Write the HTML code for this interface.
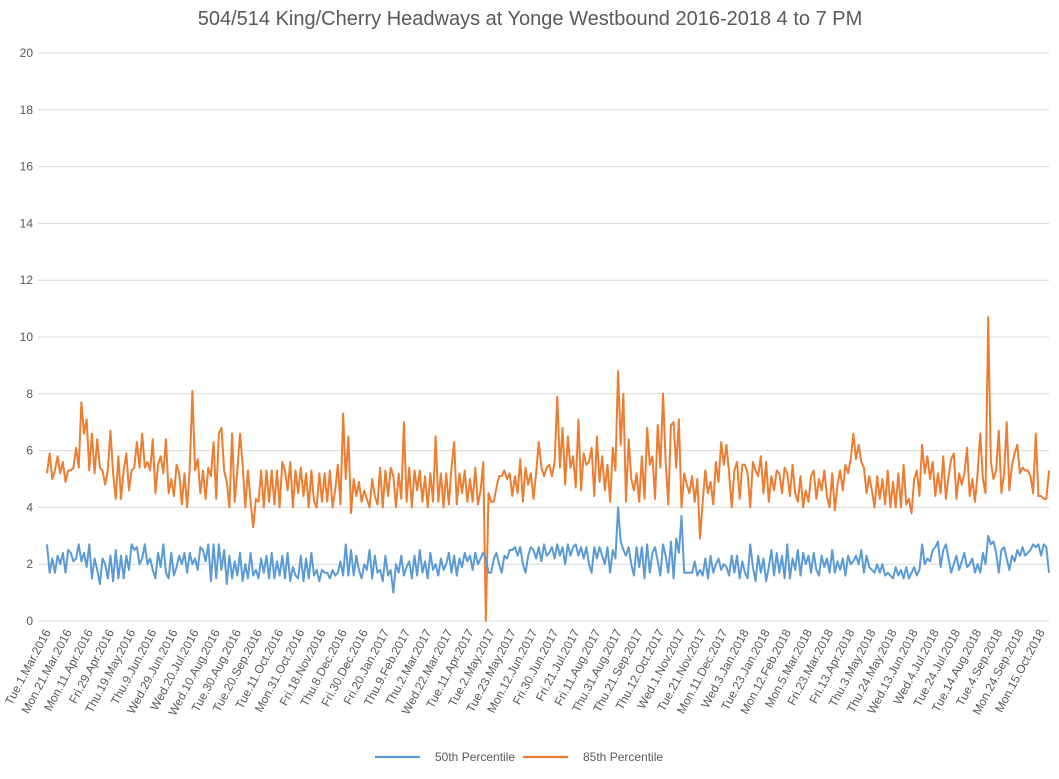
<!DOCTYPE html>
<html><head><meta charset="utf-8"><style>
html,body{margin:0;padding:0;background:#fff;}
svg{display:block;font-family:"Liberation Sans",sans-serif;}
</style></head><body>
<svg id="chart" width="1059" height="779" viewBox="0 0 1059 779">
<text x="530" y="25" text-anchor="middle" font-size="20" fill="#595959">504/514 King/Cherry Headways at Yonge Westbound 2016-2018 4 to 7 PM</text>
<g id="grid"></g><g id="ylabels"></g><g id="xlabels"></g><g id="series"></g>
<g>
<line x1="375" y1="757" x2="420" y2="757" stroke="#5B9BD5" stroke-width="2.2"/>
<text x="435" y="761" font-size="12" fill="#595959">50th Percentile</text>
<line x1="523" y1="757" x2="568" y2="757" stroke="#ED7D31" stroke-width="2.2"/>
<text x="583" y="761" font-size="12" fill="#595959">85th Percentile</text>
</g>
</svg>
<script>
const tickLabels=[0,2,4,6,8,10,12,14,16,18,20];
const dateLabels=["Tue.1.Mar.2016","Mon.21.Mar.2016","Mon.11.Apr.2016","Fri.29.Apr.2016","Thu.19.May.2016","Thu.9.Jun.2016","Wed.29.Jun.2016","Wed.20.Jul.2016","Wed.10.Aug.2016","Tue.30.Aug.2016","Tue.20.Sep.2016","Tue.11.Oct.2016","Mon.31.Oct.2016","Fri.18.Nov.2016","Thu.8.Dec.2016","Fri.30.Dec.2016","Fri.20.Jan.2017","Thu.9.Feb.2017","Thu.2.Mar.2017","Wed.22.Mar.2017","Tue.11.Apr.2017","Tue.2.May.2017","Tue.23.May.2017","Mon.12.Jun.2017","Fri.30.Jun.2017","Fri.21.Jul.2017","Fri.11.Aug.2017","Thu.31.Aug.2017","Thu.21.Sep.2017","Thu.12.Oct.2017","Wed.1.Nov.2017","Tue.21.Nov.2017","Mon.11.Dec.2017","Wed.3.Jan.2018","Tue.23.Jan.2018","Mon.12.Feb.2018","Mon.5.Mar.2018","Fri.23.Mar.2018","Fri.13.Apr.2018","Thu.3.May.2018","Thu.24.May.2018","Wed.13.Jun.2018","Wed.4.Jul.2018","Tue.24.Jul.2018","Tue.14.Aug.2018","Tue.4.Sep.2018","Mon.24.Sep.2018","Mon.15.Oct.2018"];
const pointsPerLabel=8;
const p85=[5.2,5.9,5.0,5.3,5.8,5.2,5.6,4.9,
5.3,5.3,5.4,6.1,5.4,7.7,6.6,7.1,
5.3,6.6,5.2,6.4,5.4,5.3,4.8,5.3,
6.7,5.2,4.3,5.8,4.3,5.3,5.9,4.6,
5.3,5.4,6.3,5.4,6.6,5.4,5.6,5.3,
6.4,4.5,5.5,5.8,5.2,6.4,4.5,5.0,
4.4,5.5,5.2,4.1,5.2,4.0,5.4,8.1,
5.3,5.7,4.5,5.3,4.3,5.4,5.1,6.3,
4.3,6.6,6.8,5.3,4.9,4.0,6.6,4.2,
5.3,6.6,5.5,4.0,5.3,4.2,3.3,4.3,
4.2,5.3,4.0,5.3,4.2,5.3,4.1,5.3,
4.0,5.6,5.3,4.6,5.6,4.0,5.3,4.5,
5.4,4.4,5.2,4.0,5.3,4.2,4.0,5.2,
4.2,5.2,4.2,5.3,4.0,4.6,5.5,4.1,
7.3,5.0,6.5,3.8,5.0,4.4,4.9,4.2,
4.6,4.3,4.0,5.0,4.4,4.1,5.4,4.0,
5.3,4.4,5.4,5.1,4.0,5.2,4.3,7.0,
4.2,5.4,4.0,5.3,4.6,5.3,4.2,5.1,
4.0,5.2,4.2,6.5,4.2,5.2,4.0,5.2,
4.1,5.4,6.3,4.1,5.2,4.5,5.3,4.2,
5.0,4.2,5.4,4.1,4.6,5.6,0.0,4.5,
4.2,4.2,4.7,5.1,5.1,5.3,5.0,5.2,
4.4,5.1,4.5,5.7,4.2,5.4,4.8,5.2,
4.3,5.2,6.3,5.4,5.1,5.4,5.5,5.1,
5.6,7.9,5.4,6.8,4.8,6.5,5.4,5.8,
4.7,7.1,4.6,5.9,5.5,5.6,6.1,4.4,
6.5,4.9,5.8,4.6,5.5,4.2,6.1,5.3,
8.8,6.2,8.0,4.2,6.4,5.0,4.6,5.2,
4.2,5.8,4.3,6.8,5.5,5.8,4.3,6.9,
5.4,8.0,5.6,4.1,6.9,7.0,5.4,7.1,
4.0,5.2,4.8,4.5,5.1,4.2,5.0,2.9,
4.2,5.3,4.5,4.9,4.1,5.6,4.9,6.3,
5.5,6.2,5.2,4.0,5.3,5.6,4.3,5.5,
5.5,5.2,4.0,5.6,5.3,5.1,5.8,4.5,
5.6,4.2,5.1,4.6,5.3,5.2,4.5,5.4,
5.2,4.4,5.5,4.5,4.2,5.1,4.0,4.6,
4.2,5.1,5.3,4.3,5.0,4.6,5.3,4.4,
4.0,5.2,3.9,4.8,5.3,4.6,5.5,5.2,
5.7,6.6,5.7,6.2,5.6,5.4,4.5,5.1,
4.6,4.0,5.1,4.3,5.0,4.1,5.3,4.0,
4.9,4.0,5.2,4.0,5.5,4.1,4.3,3.8,
5.0,5.3,4.4,6.2,5.2,5.8,5.0,5.6,
4.4,5.2,4.5,5.8,4.3,5.1,5.7,5.9,
4.3,5.2,4.8,5.2,6.1,4.4,5.0,4.2,
5.2,6.6,5.0,4.5,10.7,5.6,5.0,5.3,
6.7,4.5,5.2,7.0,4.6,5.5,5.9,6.2,
5.2,5.4,5.3,5.3,5.1,4.5,6.6,4.4,
4.4,4.3,4.3,5.3];
const p50=[2.7,1.7,2.2,1.7,2.3,2.0,2.4,1.7,
2.5,2.4,2.1,2.2,2.7,2.1,2.4,1.9,
2.7,1.5,2.2,1.8,1.3,2.2,2.0,1.5,
2.3,1.4,2.5,1.5,2.3,1.5,2.3,1.8,
2.7,2.5,2.6,2.0,2.2,2.7,2.0,2.2,
1.8,1.5,2.4,1.9,2.7,1.7,1.5,2.4,
1.6,1.9,2.3,2.0,2.4,1.7,2.4,2.0,
2.2,1.8,2.6,2.5,2.1,2.7,1.4,2.7,
1.5,2.7,1.8,2.5,1.3,2.3,1.5,2.1,
1.6,2.4,1.4,2.0,1.5,2.4,1.6,1.8,
1.5,2.2,1.7,2.3,1.5,2.4,1.5,2.1,
1.6,2.3,1.5,2.4,1.4,1.9,1.6,1.5,
2.3,1.4,2.2,1.5,2.4,1.6,1.8,1.4,
1.8,1.7,1.7,1.5,1.8,1.6,1.7,2.1,
1.6,2.7,1.6,2.5,1.6,2.3,1.8,1.5,
2.0,1.8,2.5,1.5,2.3,1.7,1.8,1.4,
2.3,1.6,1.8,1.0,2.0,1.7,2.3,1.6,
1.9,2.1,1.5,2.3,1.6,2.5,1.7,2.1,
1.5,2.4,1.8,2.0,1.6,2.2,1.8,2.0,
2.4,1.7,2.3,1.6,2.2,1.9,2.4,2.1,
2.3,1.8,2.4,2.0,2.2,2.4,2.2,1.7,
1.7,2.2,2.4,2.0,1.7,2.3,2.2,2.5,
2.5,2.6,2.3,2.6,2.0,1.7,2.3,2.6,
2.5,2.2,2.6,2.1,2.7,2.3,2.4,2.6,
2.2,2.7,2.3,2.6,2.0,2.7,2.3,2.6,
2.7,2.3,2.6,2.2,2.6,2.0,1.7,2.6,
2.2,2.6,2.3,2.0,2.6,1.7,2.5,2.2,
4.0,2.8,2.5,2.3,2.6,2.0,1.6,2.6,
1.9,2.6,1.5,2.7,1.7,2.4,2.6,2.1,
1.6,2.7,2.3,1.7,2.8,1.5,2.9,2.4,
3.7,1.7,1.7,1.7,1.7,2.1,1.6,1.8,
1.6,2.2,1.5,2.3,1.7,2.0,2.2,1.8,
2.0,1.9,1.6,2.3,1.7,2.3,1.5,2.1,
1.7,1.5,2.7,1.9,1.4,2.3,1.7,2.2,
1.4,1.9,2.5,1.6,2.4,1.7,2.3,1.5,
2.7,1.5,2.2,1.8,2.5,1.6,2.4,2.0,
2.3,1.7,2.4,1.8,1.6,2.3,1.9,2.2,
1.7,2.5,1.7,2.1,1.8,2.2,1.6,2.3,
2.0,2.1,2.3,2.0,2.5,1.7,2.3,1.9,
1.8,1.7,2.0,1.7,2.0,1.6,1.7,1.6,
1.5,1.9,1.6,1.8,1.5,1.9,1.5,1.7,
1.9,1.6,1.8,2.7,2.0,2.2,2.1,2.5,
2.6,2.8,1.9,2.5,2.7,2.2,1.7,2.0,
2.3,1.8,2.1,2.4,1.9,2.0,2.2,1.7,
2.0,1.7,2.4,2.0,3.0,2.7,2.8,2.4,
1.7,2.5,2.6,2.2,1.8,2.3,2.1,2.5,
2.3,2.6,2.3,2.4,2.5,2.7,2.6,2.7,
2.3,2.7,2.6,1.7];

const NS='http://www.w3.org/2000/svg';
const L=47,R=1049,T=53,B=621,YMAX=20;
const N=Math.max(p50.length,p85.length);
function xAt(i){return L+i*(R-L)/(N-1);}
function yAt(v){return B-(v/YMAX)*(B-T);}
const grid=document.getElementById('grid'),yl=document.getElementById('ylabels'),xl=document.getElementById('xlabels'),sg=document.getElementById('series');
tickLabels.forEach(t=>{
  const ln=document.createElementNS(NS,'line');
  ln.setAttribute('x1',38);ln.setAttribute('x2',R);
  ln.setAttribute('y1',yAt(t));ln.setAttribute('y2',yAt(t));
  ln.setAttribute('stroke','#d9d9d9');ln.setAttribute('stroke-width','1');
  
  
  grid.appendChild(ln);
  const tx=document.createElementNS(NS,'text');
  tx.setAttribute('x',33);tx.setAttribute('y',yAt(t)+4);
  tx.setAttribute('text-anchor','end');tx.setAttribute('font-size','12');tx.setAttribute('fill','#595959');
  tx.textContent=t;
  
  
  yl.appendChild(tx);
});
dateLabels.forEach((d,k)=>{
  const x=xAt(k*pointsPerLabel)+4,y=632;
  const tx=document.createElementNS(NS,'text');
  tx.setAttribute('x',x);tx.setAttribute('y',y);
  tx.setAttribute('text-anchor','end');tx.setAttribute('font-size','12');tx.setAttribute('fill','#595959');
  tx.setAttribute('transform','rotate(-62 '+x+' '+y+')');
  tx.textContent=d;
  
  
  xl.appendChild(tx);
});
function drawLine(vals,color,name){
  const pl=document.createElementNS(NS,'polyline');
  pl.setAttribute('points',vals.map((v,i)=>xAt(i).toFixed(2)+','+yAt(v).toFixed(2)).join(' '));
  pl.setAttribute('fill','none');pl.setAttribute('stroke',color);pl.setAttribute('stroke-width','2');pl.setAttribute('stroke-linejoin','round');
  
  
  sg.appendChild(pl);
}
drawLine(p85,'#ED7D31','series-85th-percentile');
drawLine(p50,'#5B9BD5','series-50th-percentile');
</script>
</body></html>
